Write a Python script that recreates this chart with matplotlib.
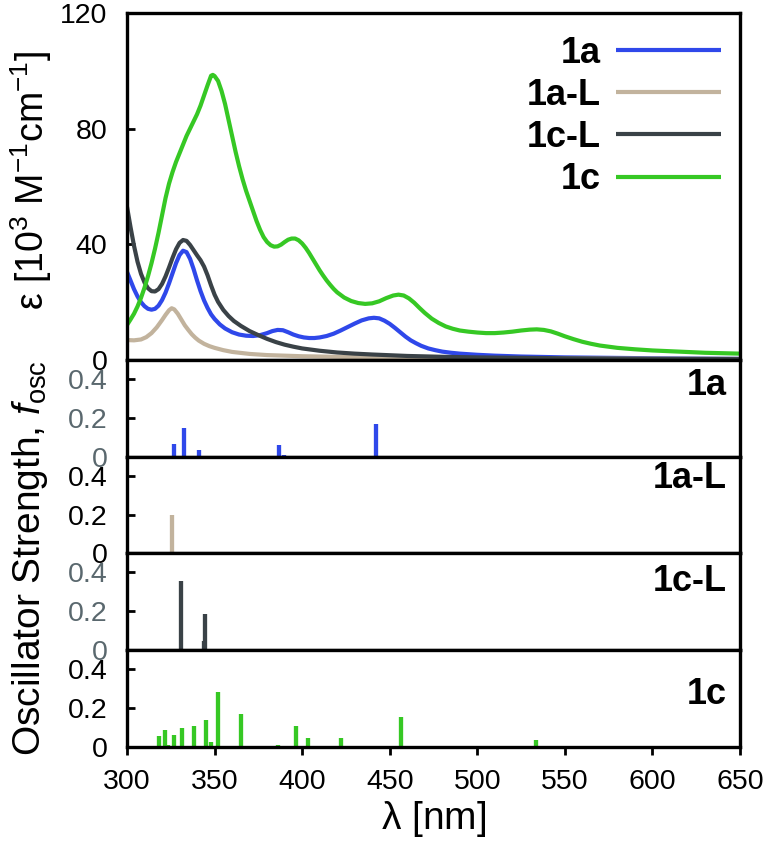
import numpy as np
import matplotlib
matplotlib.use("Agg")
import matplotlib.pyplot as plt

plt.rcParams['font.family'] = ['Liberation Sans', 'DejaVu Sans']
plt.rcParams['mathtext.fontset'] = 'custom'
plt.rcParams['mathtext.rm'] = 'Liberation Sans'
plt.rcParams['mathtext.it'] = 'Liberation Sans:italic'
plt.rcParams['mathtext.default'] = 'regular'

# absorption spectra (wavelength nm, epsilon 10^3 M-1 cm-1)
wl_1a = [300, 302, 304, 306, 308, 310, 312, 314, 316, 318, 320, 322, 324, 326, 328, 330,
         332, 334, 336, 338, 340, 342, 344, 346, 348, 350, 353, 356, 360, 364, 368, 372,
         376, 380, 383, 386, 389, 392, 395, 398, 401, 404, 407, 410, 414, 418, 422, 426,
         430, 434, 438, 441, 444, 447, 450, 453, 456, 459, 462, 465, 468, 472, 476, 480,
         485, 490, 500, 510, 525, 550, 600, 650]
eps_1a = [30.5, 27.5, 24.5, 22, 20, 18.6, 17.7, 17.4, 17.7, 18.8, 20.7, 23.3, 26.5, 30, 33.5, 36.3,
          37.8, 37.3, 35, 31.5, 27.5, 23.8, 20.6, 18, 15.8, 14.2, 12.3, 10.9, 9.6, 8.8, 8.4, 8.3,
          8.6, 9.3, 10, 10.4, 10.3, 9.6, 8.8, 8.2, 7.8, 7.6, 7.6, 7.8, 8.3, 9.1, 10.2, 11.4,
          12.6, 13.7, 14.4, 14.6, 14.4, 13.6, 12.5, 11.1, 9.6, 8.1, 6.8, 5.8, 4.9, 4.0, 3.4, 2.9,
          2.5, 2.2, 1.8, 1.5, 1.2, 0.9, 0.6, 0.4]

wl_1aL = [300, 304, 308, 311, 314, 317, 320, 322, 324, 325.5, 327, 329, 331, 333, 335, 337,
          339, 341, 344, 347, 350, 355, 360, 370, 380, 400, 450, 500, 650]
eps_1aL = [6.9, 6.8, 7.1, 7.9, 9.3, 11.3, 13.8, 15.6, 17.2, 17.9, 17.5, 16, 14, 12, 10.4, 8.9,
           7.7, 6.7, 5.6, 4.8, 4.2, 3.4, 2.8, 2.1, 1.7, 1.3, 0.8, 0.6, 0.4]

wl_1cL = [300, 302, 304, 306, 308, 310, 312, 314, 316, 318, 320, 322, 324, 326, 328, 330,
          332, 334, 336, 338, 340, 342, 344, 346, 348, 350, 352, 355, 358, 361, 365, 370,
          375, 380, 385, 390, 395, 400, 410, 420, 430, 440, 460, 480, 500, 550, 600, 650]
eps_1cL = [53, 46, 39.5, 34, 29.8, 26.8, 24.8, 23.8, 23.7, 24.5, 26.3, 28.9, 32, 35.3, 38.3, 40.5,
           41.5, 41.2, 39.8, 38, 36.2, 34.5, 32.3, 29.3, 25.8, 22.6, 20.1, 17.3, 15.2, 13.5, 11.8, 10.0,
           8.6, 7.3, 6.2, 5.3, 4.6, 4.0, 3.2, 2.6, 2.2, 1.9, 1.4, 1.1, 0.9, 0.6, 0.4, 0.3]

wl_1c = [300, 302, 304, 306, 308, 310, 312, 314, 316, 318, 320, 322, 324, 326, 328, 330,
         332, 334, 336, 338, 340, 342, 344, 346, 348, 349, 350, 352, 354, 356, 358, 360,
         362, 364, 366, 368, 370, 372, 374, 376, 378, 380, 382, 384, 386, 388, 390, 392,
         394, 396, 398, 400, 402, 404, 406, 408, 410, 412, 414, 416, 418, 420, 424, 428,
         432, 436, 440, 444, 448, 452, 455, 458, 461, 464, 467, 470, 474, 478, 482, 486,
         490, 495, 500, 505, 510, 515, 520, 525, 530, 534, 538, 542, 546, 550, 555, 560,
         565, 570, 580, 590, 600, 615, 630, 650]
eps_1c = [12.1, 14, 16, 18.5, 21.5, 25, 29, 33.5, 38.5, 44, 50, 56, 61, 65, 68.5, 71.5,
          74.5, 77.5, 80, 82.5, 85, 88, 91.5, 95, 98.3, 98.6, 98.2, 96.5, 93, 88.5, 83, 77.5,
          72, 67, 62.5, 58.5, 55, 51.5, 48, 45, 42.5, 40.8, 39.7, 39.2, 39.3, 39.9, 40.8, 41.6,
          42.0, 42.0, 41.4, 40.3, 38.8, 37, 35, 33, 31, 29.2, 27.5, 26, 24.6, 23.4, 21.6, 20.4,
          19.7, 19.4, 19.6, 20.3, 21.4, 22.3, 22.6, 22.3, 21.3, 19.8, 18, 16.3, 14.3, 12.8, 11.6, 10.8,
          10.2, 9.8, 9.5, 9.3, 9.3, 9.5, 9.8, 10.2, 10.5, 10.6, 10.4, 9.9, 9.1, 8.2, 7.2, 6.3,
          5.6, 5.0, 4.2, 3.7, 3.3, 2.9, 2.5, 2.2]

# computed transitions (wavelength nm, oscillator strength)
st_1a_wl = [327.1, 332.5, 340.9, 386.6, 389.5, 442.0]
st_1a_f = [0.065, 0.148, 0.036, 0.062, 0.008, 0.17]

st_1aL_wl = [325.7]
st_1aL_f = [0.2]

st_1cL_wl = [331.1, 343.7, 344.6]
st_1cL_f = [0.356, 0.048, 0.184]

st_1c_wl = [318.1, 321.5, 323.6, 327.1, 331.4, 338.3, 345.3, 347.9, 351.7, 365.1,
            386.3, 396.3, 403.6, 422.2, 456.4, 533.7]
st_1c_f = [0.057, 0.088, 0.01, 0.063, 0.098, 0.108, 0.139, 0.027, 0.283, 0.168,
           0.012, 0.108, 0.046, 0.046, 0.153, 0.035]

names = ['1a', '1a-L', '1c-L', '1c']
colors = ['#2f48ea', '#c2b39d', '#3a4247', '#36c824']
tick_grey = '#5a686e'

fig = plt.figure(figsize=(7.73, 8.49), dpi=100)
left, right = 127 / 773, 740 / 773
W = right - left


def fy(p):
    return 1 - p / 849


ax0 = fig.add_axes([left, fy(360), W, fy(13) - fy(360)])
bounds = [360, 457, 553, 650, 747]
sticks = []
for i in range(4):
    a = fig.add_axes([left, fy(bounds[i + 1]), W, fy(bounds[i]) - fy(bounds[i + 1])],
                     sharex=ax0)
    sticks.append(a)

for a in [ax0] + sticks:
    for s in a.spines.values():
        s.set_linewidth(2.4)
    a.tick_params(axis='y', direction='in', length=6, width=2, pad=14, labelsize=20.5)
    a.tick_params(axis='x', direction='out', length=6, width=2, pad=10, labelsize=20.5,
                  bottom=False, labelbottom=False)

spectra = [(wl_1a, eps_1a), (wl_1aL, eps_1aL), (wl_1cL, eps_1cL), (wl_1c, eps_1c)]
for (w, e), c, n in zip(spectra, colors, names):
    ax0.plot(w, e, color=c, lw=3, label=n, solid_capstyle='butt', solid_joinstyle='round')

ax0.set_xlim(300, 650)
ax0.set_ylim(0, 120)
ax0.set_yticks([0, 40, 80, 120])
leg = ax0.legend(loc='upper right', bbox_to_anchor=(0.969, 0.935), frameon=False,
                 markerfirst=False, prop={'weight': 'bold', 'size': 26},
                 handlelength=2.9, handletextpad=0.42, labelspacing=0.2,
                 borderpad=0, borderaxespad=0)

stick_data = [(st_1a_wl, st_1a_f), (st_1aL_wl, st_1aL_f),
              (st_1cL_wl, st_1cL_f), (st_1c_wl, st_1c_f)]
label_y = [0.74, 0.78, 0.71, 0.54]
for i, a in enumerate(sticks):
    w, f = stick_data[i]
    a.vlines(w, 0, f, color=colors[i], lw=3.1)
    a.set_ylim(0, 0.5)
    a.set_yticks([0, 0.2, 0.4])
    a.set_yticklabels(['0', '0.2', '0.4'])
    if i in (0, 2):
        for t in a.get_yticklabels():
            t.set_color(tick_grey)
    a.text(0.979, label_y[i], names[i], transform=a.transAxes, ha='right', va='center',
           fontsize=26, fontweight='bold')

sticks[-1].tick_params(axis='x', bottom=True, labelbottom=True)
sticks[-1].set_xticks(np.arange(300, 651, 50))
sticks[-1].set_xlabel(r'$\lambda$ [nm]', fontsize=28, labelpad=3)

fig.text(31 / 773, fy(180), r'$\epsilon$ [10$^3$ M$^{-1}$cm$^{-1}$]', rotation=90,
         ha='center', va='center', fontsize=27)
fig.text(30 / 773, fy(558), r'Oscillator Strength, $\mathit{f}_{\rm osc}$', rotation=90,
         ha='center', va='center', fontsize=28)

fig.savefig('out.png', dpi=100)
